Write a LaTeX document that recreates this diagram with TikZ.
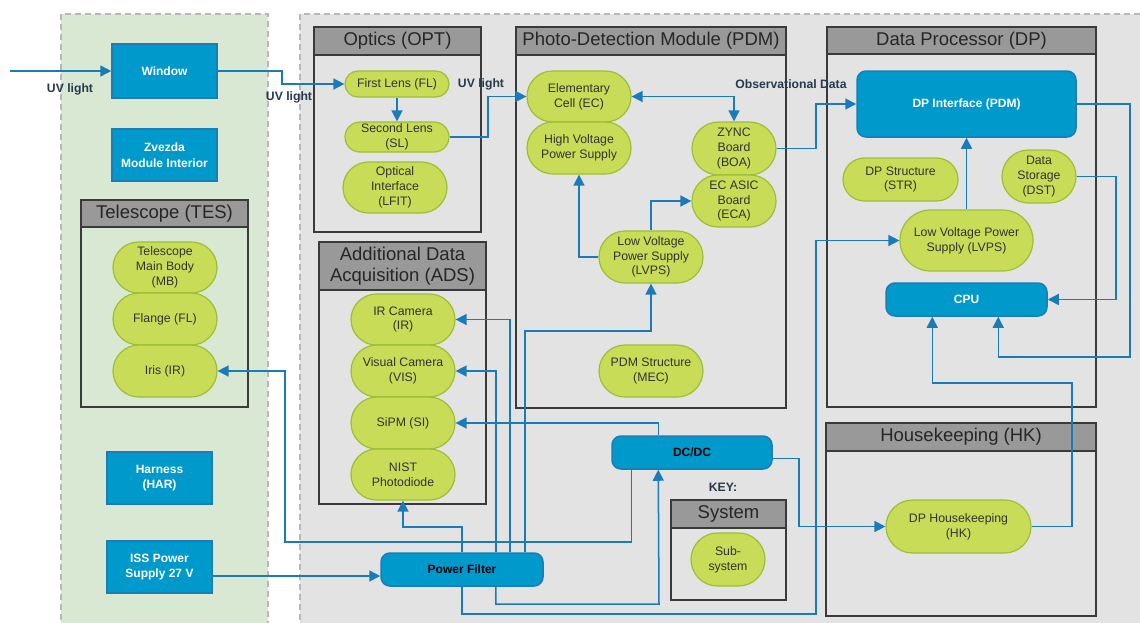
\documentclass[tikz,border=0pt]{standalone}
\usepackage{fontspec}
\setmainfont{Liberation Sans}
\usetikzlibrary{arrows.meta}

\definecolor{bluefill}{HTML}{0099CC}
\definecolor{blueedge}{HTML}{1B7DB5}
\definecolor{wire}{HTML}{1A7BB8}
\definecolor{pillfill}{HTML}{C8DC58}
\definecolor{pilledge}{HTML}{9DBE35}
\definecolor{headfill}{HTML}{999999}
\definecolor{frameedge}{HTML}{3A3A3A}
\definecolor{greenzone}{HTML}{D9E8D3}
\definecolor{greyzone}{HTML}{E3E3E3}
\definecolor{zoneedge}{HTML}{B8B8B8}
\definecolor{labeltext}{HTML}{26394D}
\definecolor{pilltext}{HTML}{333333}

% subsystem frame with a grey title bar: name, x1, y1, x2, y2, bar bottom, title
\newcommand{\subsysframe}[7]{%
  \draw[framehead] (#2,#3) rectangle (#4,#6);
  \draw[frameline] (#2,#3) rectangle (#4,#5);
  \node[headtext] (#1) at ({(#2+#4)/2},{(#3+#6)/2}) {#7};
}

\begin{document}
\begin{tikzpicture}[x=1pt,y=-1pt,
  zone/.style={draw=zoneedge, line width=1.5pt, dash pattern=on 6pt off 4pt},
  frameline/.style={draw=frameedge, line width=1.8pt},
  framehead/.style={fill=headfill, draw=frameedge, line width=1.8pt},
  headtext/.style={font=\fontsize{18.5}{20.5}\selectfont, text=black!85, align=center, inner sep=0pt},
  pill/.style 2 args={draw=pilledge, fill=pillfill, line width=1.2pt,
    minimum width=#1pt, minimum height=#2pt, rounded corners=#2pt/2,
    inner sep=0.5pt, align=center, text=pilltext, font=\fontsize{12.3}{14.8}\selectfont},
  bluebox/.style 2 args={fill=bluefill, draw=blueedge, line width=1.5pt,
    minimum width=#1pt, minimum height=#2pt, inner sep=1pt, align=center,
    text=white, font=\fontsize{12}{15.5}\selectfont\bfseries},
  blueround/.style 2 args={bluebox={#1}{#2}, rounded corners=9pt},
  darktext/.style={text=black},
  arr/.style={draw=wire, line width=1.5pt, -{Triangle[length=11pt,width=11pt]}},
  arrboth/.style={draw=wire, line width=1.5pt, {Triangle[length=11pt,width=11pt]}-{Triangle[length=11pt,width=11pt]}},
  wirelabel/.style={font=\fontsize{12.2}{14}\selectfont\bfseries, text=labeltext, inner sep=0pt}
]
\useasboundingbox (0,0) rectangle (1140,622);
\clip (0,0) rectangle (1140,622);
\fill[white] (0,0) rectangle (1140,622);

% zones
\fill[greenzone] (61,14) rectangle (268,640);
\draw[zone] (61,640) -- (61,14) -- (268,14) -- (268,640);
\fill[greyzone] (300,14) rectangle (1160,640);
\draw[zone] (300,640) -- (300,14) -- (1160,14);

% subsystem frames
\subsysframe{tes}{81}{200}{248}{407}{227}{Telescope (TES)}
\subsysframe{opt}{314}{27}{481}{232}{55}{Optics (OPT)}
\subsysframe{pdm}{516}{27}{786}{408}{55}{Photo-Detection Module (PDM)}
\subsysframe{dp}{827}{27}{1096}{407}{54}{Data Processor (DP)}
\subsysframe{ads}{319}{242}{486}{504}{290}{Additional Data\\Acquisition (ADS)}
\subsysframe{hkf}{826}{423}{1096}{616}{451}{Housekeeping (HK)}
\subsysframe{sys}{671}{500}{786}{600}{528}{System}

% station side
\node[bluebox={105}{54}] (window) at (164.5,71) {Window};
\node[bluebox={105}{52}] (zvezda) at (164.5,155) {Zvezda\\Module Interior};
\node[bluebox={105}{52}] (harness) at (159.5,478) {Harness\\(HAR)};
\node[bluebox={105}{52}] (iss) at (159.5,567) {ISS Power\\Supply 27 V};

% telescope
\node[pill={104}{51}] (mb) at (165,267.5) {Telescope\\Main Body\\(MB)};
\node[pill={104}{52}] (flange) at (165,319) {Flange (FL)};
\node[pill={104}{52}] (iris) at (165,371) {Iris (IR)};

% optics
\node[pill={104}{26}] (fl) at (397,84) {First Lens (FL)};
\node[pill={104}{30}] (sl) at (397,137) {Second Lens\\(SL)};
\node[pill={104}{51}] (lfit) at (395,187.5) {Optical\\Interface\\(LFIT)};

% photo-detection module
\node[pill={104}{51}] (ec) at (579,96.5) {Elementary\\Cell (EC)};
\node[pill={104}{52}] (hv) at (579,148) {High Voltage\\Power Supply};
\node[pill={84}{53}] (boa) at (734,148.5) {ZYNC\\Board\\(BOA)};
\node[pill={84}{52}] (eca) at (734,201) {EC ASIC\\Board\\(ECA)};
\node[pill={104}{52}] (lvps) at (651,257) {Low Voltage\\Power Supply\\(LVPS)};
\node[pill={104}{52}] (mec) at (651,371) {PDM Structure\\(MEC)};

% data processor
\node[blueround={219}{66}] (dpi) at (966.5,104) {DP Interface (PDM)};
\node[pill={115}{43}] (str) at (900.5,179.5) {DP Structure\\(STR)};
\node[pill={74}{53}] (dst) at (1039,176.5) {Data\\Storage\\(DST)};
\node[pill={133}{61}] (dplv) at (966.5,240.5) {Low Voltage Power\\Supply (LVPS)};
\node[blueround={161}{33}] (cpu) at (966.5,299.5) {CPU};

% additional data acquisition
\node[pill={104}{51}] (ircam) at (403,319.5) {IR Camera\\(IR)};
\node[pill={104}{52}] (vis) at (403,371) {Visual Camera\\(VIS)};
\node[pill={104}{52}] (sipm) at (403,423) {SiPM (SI)};
\node[pill={104}{51}] (nist) at (403,474.5) {NIST\\Photodiode};

% power
\node[blueround={162}{33}, darktext] (pf) at (462,569.5) {Power Filter};
\node[blueround={160}{33}, darktext] (dcdc) at (692,452.5) {DC/DC};

% housekeeping and key
\node[pill={145}{53}] (hk) at (958.5,526.5) {DP Housekeeping\\(HK)};
\node[pill={74}{53}] (sub) at (728,559.5) {Sub-\\system};

% optical path
\coordinate (uvsrc) at (10,71);
\draw[arr] (uvsrc) -- (window.west);
\draw[arr] (window.east) -| (282,84) -- (fl.west);
\draw[arr] (fl.south) -- (sl.north);
\draw[arr] (sl.east) -| (488,96.5) -- (ec.west);
\draw[arrboth] (ec.east) -| (boa.north);
\draw[arr] (boa.east) -| (816,104) -- (dpi.west);

% PDM power
\draw[arr] (lvps.west) -| (hv.south);
\draw[arr] (lvps.north) |- (eca.west);

% data processor internals
\draw[arr] (dplv.north) -- (dpi.south);
\draw[arr] (dst.east) -| (1116,299.5) -- (cpu.east);
\draw[arr] (dpi.east) -| (1130,357) -| ([xshift=113pt]cpu.south west);
\draw[arr] (hk.east) -| (1072,383) -| ([xshift=47pt]cpu.south west);

% power distribution
\draw[arr] ([yshift=-9pt]iss.east) -- ([yshift=-6.5pt]pf.west);
\draw[arr] ([xshift=-19pt]pf.north east) |- (651,331) -- (lvps.south);
\draw[arr] ([xshift=-34pt]pf.north east) |- (ircam.east);
\draw[arr] ([xshift=-48pt]pf.north east) |- (vis.east);
\draw[arr] (pf.north) |- (403,527) -- (nist.south);
\draw[arr] ([xshift=-48pt]pf.south east) |- (659,604) -- ([xshift=47pt]dcdc.south west);
\draw[arr] (pf.south) |- (816,614) |- (dplv.west);
\draw[arr] ([xshift=47pt]dcdc.north west) |- (sipm.east);
\draw[arr] ([xshift=20pt]dcdc.south west) |- (285,542) |- (iris.east);
\draw[arr] ([yshift=-6pt]dcdc.east) -| (799,526.5) -- (hk.west);

% labels
\node[wirelabel] (uv1) at (70,89) {UV light};
\node[wirelabel] (uv2) at (289,97) {UV light};
\node[wirelabel] (uv3) at (481,84) {UV light};
\node[wirelabel] (obs) at (791,84) {Observational Data};
\node[wirelabel] (key) at (723,487) {KEY:};
\end{tikzpicture}
\end{document}
